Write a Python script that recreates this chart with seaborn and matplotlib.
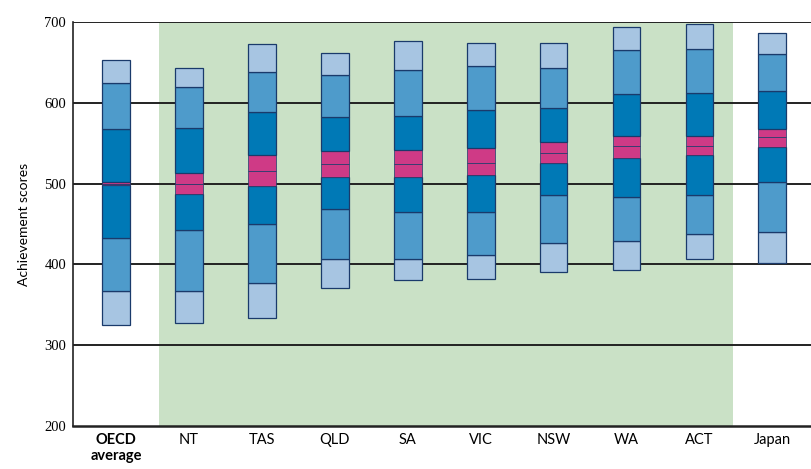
import numpy as np
import pandas as pd
import seaborn as sns
import matplotlib.pyplot as plt

# categories and percentile values
groups = ['OECD\naverage', 'NT', 'TAS', 'QLD', 'SA', 'VIC', 'NSW', 'WA', 'ACT', 'Japan']
p5 = [325, 327, 333, 371, 380, 382, 391, 393, 407, 402]
p10 = [367, 367, 377, 407, 407, 412, 426, 429, 437, 440]
p25 = [433, 443, 450, 469, 465, 465, 486, 483, 486, 502]
ci_low = [498, 487, 497, 508, 508, 510, 525, 532, 535, 545]
mean = [500, 500, 516, 524, 524, 525, 538, 547, 547, 558]
ci_high = [502, 513, 535, 540, 542, 544, 551, 559, 559, 567]
p75 = [568, 569, 588, 582, 584, 591, 594, 611, 612, 615]
p90 = [624, 620, 638, 635, 641, 645, 643, 666, 667, 661]
p95 = [653, 643, 673, 662, 676, 674, 674, 694, 697, 687]

light = '#a7c5e2'
mid = '#4e9bcb'
dark = '#0079b6'
pink = '#cf3a86'
edge = '#1a3a6b'
green = '#cae1c6'

df = pd.DataFrame({'group': groups, 'p5': p5, 'p10': p10, 'p25': p25,
                   'ci_low': ci_low, 'mean': mean, 'ci_high': ci_high,
                   'p75': p75, 'p90': p90, 'p95': p95})

# segments of each bar, bottom -> top
segments = [('p5', 'p10', light), ('p10', 'p25', mid), ('p25', 'ci_low', dark),
            ('ci_low', 'mean', pink), ('mean', 'ci_high', pink),
            ('ci_high', 'p75', dark), ('p75', 'p90', mid), ('p90', 'p95', light)]

fig = plt.figure(figsize=(8.11, 4.69), dpi=100)
ax = fig.add_axes([0.09, 0.092, 0.91, 0.861])

ax.axvspan(0.59, 8.46, color=green, zorder=0, lw=0)
for v in [300, 400, 500, 600, 700]:
    ax.axhline(v, color='#222222', lw=1.4, zorder=1)

for lo, hi, col in segments:
    lw = 0.5 if col == pink else 0.9
    sns.barplot(x=df['group'], y=df[hi] - df[lo], bottom=df[lo], order=groups,
                color=col, saturation=1, width=0.38, errorbar=None,
                edgecolor=edge, linewidth=lw, ax=ax, zorder=3)

ax.set_xlim(-0.59, 9.53)
ax.set_ylim(200, 700)
ax.set_yticks([200, 300, 400, 500, 600, 700])
ax.set_yticklabels(['200', '300', '400', '500', '600', '700'],
                   family='Liberation Serif', fontsize=10.5)
ax.tick_params(axis='both', length=0, pad=5)
ax.set_xticks(range(len(groups)))
ax.set_xticklabels(groups, family='Lato', fontsize=10.5)
ax.get_xticklabels()[0].set_fontweight('bold')
ax.set_xlabel('')
ax.set_ylabel('Achievement scores', family='Lato', fontsize=10, labelpad=10)

for s in ['top', 'right']:
    ax.spines[s].set_visible(False)
ax.spines['left'].set_color('#222222')
ax.spines['left'].set_linewidth(1.2)
ax.spines['bottom'].set_color('#222222')
ax.spines['bottom'].set_linewidth(1.8)

fig.savefig('out.png', dpi=100)
